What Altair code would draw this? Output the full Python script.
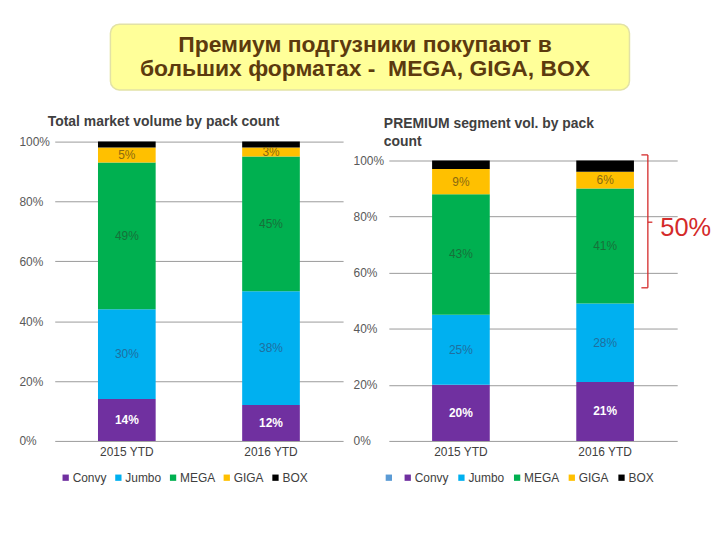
import altair as alt
import pandas as pd

categories = ["2015 YTD", "2016 YTD"]
segments = ["Convy", "Jumbo", "MEGA", "GIGA", "BOX"]

total_convy = [14, 12]
total_jumbo = [30, 38]
total_mega = [49, 45]
total_giga = [5, 3]
total_box = [2, 2]

prem_convy = [20, 21]
prem_jumbo = [25, 28]
prem_mega = [43, 41]
prem_giga = [9, 6]
prem_box = [3, 4]

y_ticks = [0, 20, 40, 60, 80, 100]

headline = ["Премиум подгузники покупают в", "больших форматах -\u00a0 MEGA, GIGA, BOX"]
left_title = "Total market volume by pack count"
right_title = ["PREMIUM segment vol. by pack", "count"]

bracket_top = 102.0
bracket_mid = 78.0
bracket_bottom = 54.6
bracket_label = "50%"
bracket_label_y = 75.9

FONT = "Liberation Sans"
RED = "#d42a2a"
seg_colors = ["#7030a0", "#00b0f0", "#00b050", "#ffc000", "#000000"]
lbl_domain = ["Jumbo", "MEGA", "GIGA"]
lbl_colors = ["#1f6f9f", "#17703a", "#8a6a10"]


def build(series):
    rows = []
    for ci, cat in enumerate(categories):
        cum = 0
        for si, seg in enumerate(segments):
            v = series[si][ci]
            rows.append(dict(cat=cat, seg=seg, val=v, idx=si, mid=cum + v / 2,
                             label="" if seg == "BOX" else f"{v}%"))
            cum += v
    return pd.DataFrame(rows)


df_total = build([total_convy, total_jumbo, total_mega, total_giga, total_box])
df_prem = build([prem_convy, prem_jumbo, prem_mega, prem_giga, prem_box])


def panel(df, ymax, color_domain, color_range, legend_x, col_pad):
    base = alt.Chart(df)
    x = alt.X("cat:N", sort=categories, title=None,
              scale=alt.Scale(paddingInner=0.6, paddingOuter=0.3),
              axis=alt.Axis(labelAngle=0, labelFont=FONT, labelFontSize=12,
                            labelColor="#404040", ticks=False, domain=False,
                            labelPadding=6, grid=False))
    y = alt.Y("val:Q", stack="zero", title=None,
              scale=alt.Scale(domain=[0, ymax], nice=False),
              axis=alt.Axis(values=y_ticks, labelExpr="datum.value + '%'",
                            labelAlign="left", labelPadding=36, ticks=False,
                            domain=False, grid=True, gridColor="#9a9a9a",
                            labelFont=FONT, labelFontSize=12, labelColor="#595959"))
    bars = base.mark_bar().encode(
        x=x, y=y,
        color=alt.Color("seg:N", scale=alt.Scale(domain=color_domain, range=color_range),
                        legend=alt.Legend(orient="none", legendX=legend_x, legendY=332,
                                          direction="horizontal", columns=len(color_domain),
                                          symbolType="square", symbolSize=40,
                                          symbolStrokeWidth=0, labelFont=FONT,
                                          labelFontSize=12, labelColor="#404040",
                                          labelOffset=1, columnPadding=col_pad,
                                          title=None, padding=0)),
        order=alt.Order("idx:Q"),
    )
    xt = alt.X("cat:N", sort=categories)
    yt = alt.Y("mid:Q", title=None)
    convy_txt = base.transform_filter(alt.datum.seg == "Convy").mark_text(
        color="#ffffff", fontWeight="bold", font=FONT, fontSize=12
    ).encode(x=xt, y=yt, text="label:N")
    other_txt = base.transform_filter("datum.seg != 'Convy' && datum.label != ''").mark_text(
        font=FONT, fontSize=12
    ).encode(x=xt, y=yt, text="label:N",
             color=alt.Color("seg:N", scale=alt.Scale(domain=lbl_domain, range=lbl_colors),
                             legend=None))
    return [bars, convy_txt, other_txt]


left = alt.layer(*panel(df_total, 100, segments, seg_colors, 5, 5)).resolve_scale(
    color="independent"
).properties(
    width=290, height=301,
    title=alt.TitleParams(left_title, anchor="start", frame="group", offset=-7, dx=-7,
                          baseline="bottom", font=FONT, fontSize=14, fontWeight="bold",
                          color="#404040"),
)

one = pd.DataFrame({"k": [0]})
ann = alt.Chart(one)
v_rule = ann.mark_rule(color=RED, strokeWidth=1.3).encode(
    x=alt.value(260.5), y=alt.YDatum(bracket_top, type="quantitative"), y2=alt.Y2Datum(bracket_bottom))
t_rule = ann.mark_rule(color=RED, strokeWidth=1.3).encode(
    x=alt.value(254), x2=alt.value(260.5), y=alt.YDatum(bracket_top, type="quantitative"))
b_rule = ann.mark_rule(color=RED, strokeWidth=1.3).encode(
    x=alt.value(254), x2=alt.value(260.5), y=alt.YDatum(bracket_bottom, type="quantitative"))
m_rule = ann.mark_rule(color=RED, strokeWidth=1.3).encode(
    x=alt.value(260.5), x2=alt.value(265), y=alt.YDatum(bracket_mid, type="quantitative"))
ann_txt = ann.mark_text(align="left", baseline="middle", fontSize=25.5, color=RED, font=FONT).encode(
    x=alt.value(273), y=alt.YDatum(bracket_label_y, type="quantitative"), text=alt.value(bracket_label))

ymax_right = 100 * 301 / 282
right = alt.layer(
    *panel(df_prem, ymax_right, ["\u00a0\u00a0"] + segments, ["#5b9bd5"] + seg_colors, -6, 6),
    v_rule, t_rule, b_rule, m_rule, ann_txt,
).resolve_scale(color="independent").properties(
    width=290, height=301,
    title=alt.TitleParams(right_title, anchor="start", frame="group", offset=0, dy=21, dx=-5,
                          baseline="bottom", lineHeight=18, font=FONT, fontSize=14,
                          fontWeight="bold", color="#404040"),
)

head_df = pd.DataFrame({"line": headline, "row": [0, 1]})
box = alt.Chart(one).mark_rect(fill="#ffff99", stroke="#e2e2a6", strokeWidth=1.5,
                               cornerRadius=9).encode(
    x=alt.value(56), x2=alt.value(578), y=alt.value(0), y2=alt.value(66))
head_txt = alt.Chart(head_df).mark_text(font=FONT, fontSize=23, fontWeight="bold",
                                        color="#5c3a0e", baseline="middle").encode(
    x=alt.value(312),
    y=alt.Y("row:O", scale=alt.Scale(type="point", range=[21, 45], padding=0), axis=None),
    text="line:N")
header = alt.layer(box, head_txt).properties(width=625, height=66)

row = alt.hconcat(left, right, spacing=46, bounds="flush").resolve_scale(
    color="independent", x="independent", y="independent")

chart = alt.vconcat(header, row, spacing=52, bounds="flush").resolve_scale(
    color="independent"
).properties(
    padding={"left": 11, "top": 14, "right": 0, "bottom": 5}
).configure_view(strokeWidth=0)

chart.save("out.html", embed_options={"renderer": "svg", "actions": False})
